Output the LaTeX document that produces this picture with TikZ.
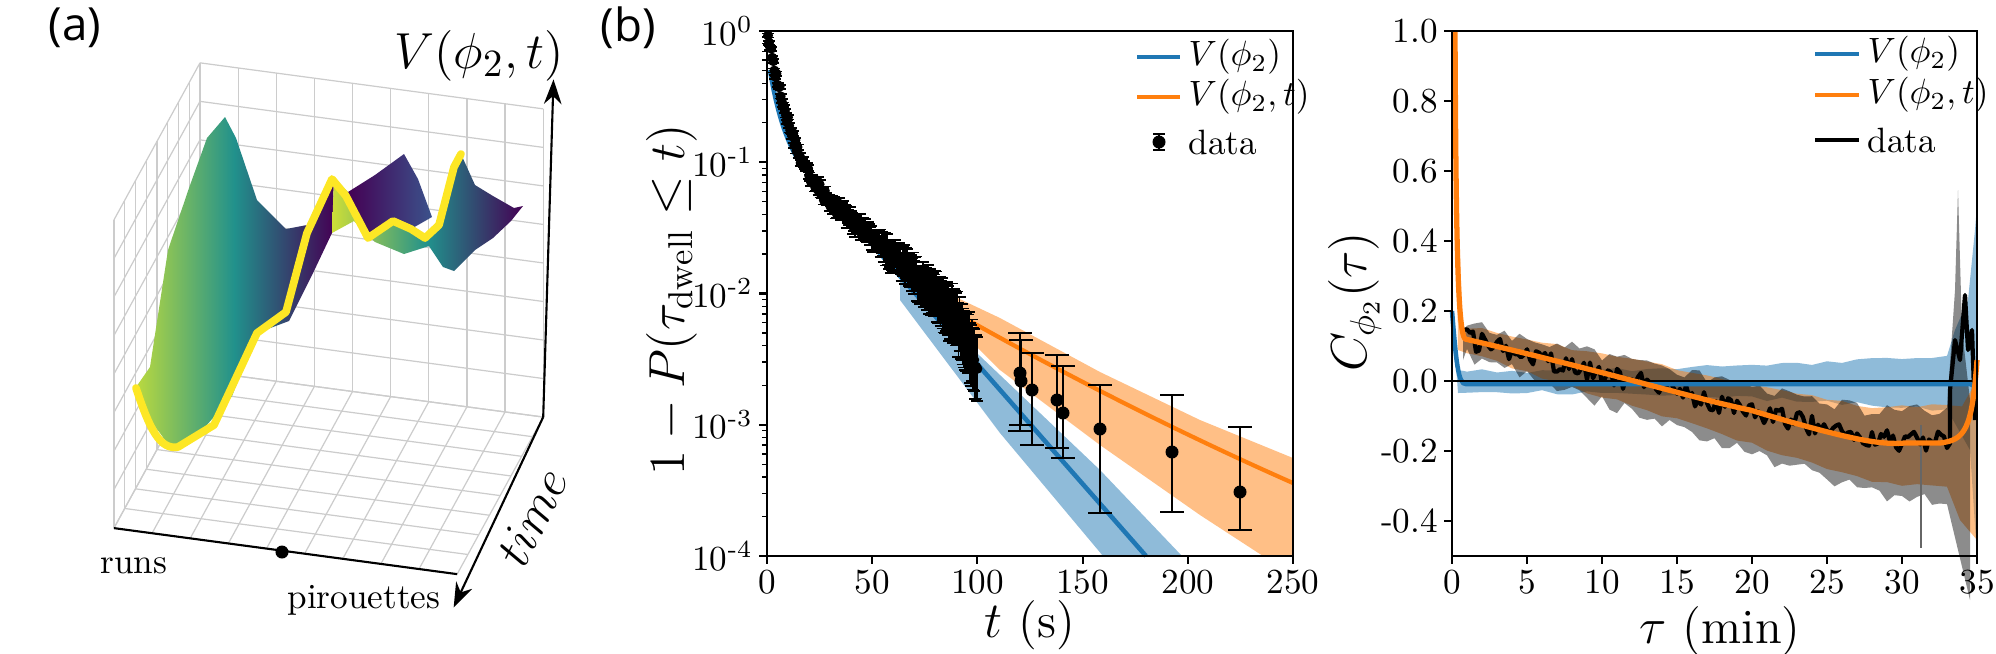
\documentclass[tikz,border=0pt]{standalone}
\usepackage{fontspec}
\usepackage{amsmath}
\setsansfont{Open Sans}
\usetikzlibrary{arrows.meta}
\definecolor{mplblue}{HTML}{1F77B4}
\definecolor{mplorange}{HTML}{FF7F0E}
\definecolor{vpurple}{HTML}{440154}
\definecolor{vblue}{HTML}{3B528B}
\definecolor{vteal}{HTML}{21918C}
\definecolor{vgreen}{HTML}{5EC962}
\definecolor{vyellow}{HTML}{FDE725}
\tikzset{
  gridline/.style={gray!40, line width=0.35pt},
  axisline/.style={black, line width=0.6pt},
  tick/.style={black, line width=0.6pt},
  ticklabel/.style={font=\fontsize{10}{12}\selectfont, inner sep=1pt},
  axislabel/.style={font=\fontsize{14}{16}\selectfont, inner sep=0pt},
  legendtext/.style={font=\fontsize{10}{12}\selectfont, anchor=west, inner sep=0pt},
  panellabel/.style={font=\sffamily\fontsize{13}{15}\selectfont, inner sep=0pt},
  errbar/.style={black, line width=0.6pt},
  dot/.style={fill=black}
}
\begin{document}
\begin{tikzpicture}[x=0.01cm, y=-0.01cm,
  declare function={cf(\t)=(\t<28) ? (0.1285-0.01066*\t) : (-0.17);
                    ly(\v)=31-131.25*ln(\v)/ln(10);}]
\useasboundingbox (0,0) rectangle (1996,653);
\pgfmathsetseed{7}

% (a) landscape
\node[panellabel] (labA) at (75,28) {(a)};
\begin{scope}[shift={(200,371)}, x={(3.43cm,-0.46cm)}, y={(-0.86cm,-1.57cm)}, z={(0cm,3.08cm)}]
  \foreach \i in {0,...,9} {
    \draw[gridline] (\i/9,0,0) -- (\i/9,0,1);
    \draw[gridline] (\i/9,0,0) -- (\i/9,1,0);
  }
  \foreach \k in {0,...,8} {
    \draw[gridline] (0,0,\k/8) -- (1,0,\k/8);
    \draw[gridline] (0,0,\k/8) -- (0,1,\k/8);
  }
  \foreach \j in {0,...,8} {
    \draw[gridline] (0,\j/8,0) -- (0,\j/8,1);
    \draw[gridline] (0,\j/8,0) -- (1,\j/8,0);
  }
  \coordinate (fl) at (0,1,0);
  \coordinate (fr) at (1,1,0);
  \coordinate (br) at (1,0,0);
  \coordinate (tr) at (1.03,0,1.1);
  \coordinate (tf) at (1.04,1.2,0);
\end{scope}
% surface
\shade[left color=vyellow!60!vgreen, right color=vpurple, middle color=vteal]
  (134,390) -- (150,367) -- (168,250) -- (189,188) -- (207,138) -- (225,117)
  -- (236,138) -- (257,200) -- (286,229) -- (307,225) -- (321,196) -- (334,177)
  -- (332,233) -- (314,271) -- (289,321)
  -- (257,333) -- (232,396) -- (200,433) -- (171,448) -- (154,425) -- (139,394) -- cycle;
\shade[left color=vpurple, right color=vblue]
  (348,192) -- (375,175) -- (404,154) -- (418,179) -- (432,217) -- (411,229) -- (393,221) -- (368,238) -- cycle;
\shade[left color=vyellow!70!vgreen, right color=vpurple, middle color=vteal]
  (334,177) -- (348,192) -- (368,238) -- (393,221) -- (411,229) -- (425,238)
  -- (439,225) -- (454,167) -- (461,154) -- (475,185) -- (493,196) -- (514,208)
  -- (523,206) -- (511,221) -- (493,238) -- (475,250) -- (454,271) -- (443,267)
  -- (429,246) -- (404,254) -- (375,242) -- (354,221) -- (332,233) -- cycle;
\draw[vyellow, line width=2.2pt, line join=round, line cap=round]
  (136,388) .. controls (150,430) and (160,450) .. (178,447)
  -- (214,425) -- (257,333) -- (286,312) -- (307,233) -- (332,179) -- (346,196)
  -- (368,238) -- (393,221) -- (411,229) -- (425,238) -- (439,225) -- (454,167) -- (461,154);
% axes of (a)
\draw[axisline] (fl) -- (fr);
\draw[axisline, -{Stealth[length=7pt,width=5pt]}] (br) -- (tf);
\draw[axisline, -{Stealth[length=7pt,width=5pt]}] (br) -- (tr);
\node[dot, circle, inner sep=0pt, minimum size=0.13cm] (mid) at (282,552) {};
\node[font=\fontsize{15}{17}\selectfont] (Vlab) at (479,56) {$V(\phi_2,t)$};
\node[font=\fontsize{15}{17}\selectfont, rotate=64] (timelab) at (532,517) {$time$};
\node[font=\fontsize{10}{12}\selectfont] (runs) at (134,566) {runs};
\node[font=\fontsize{10}{12}\selectfont] (pir) at (364,600) {pirouettes};

% (b) dwell times
\node[panellabel] (labB) at (628,28) {(b)};
\fill[mplblue, opacity=0.5] (900,280) -- (1000,375) -- (1100,470) -- (1182,556)
  -- (1103,556) -- (1000,433) -- (900,300) -- cycle;
\fill[mplorange, opacity=0.5] (930,285) -- (1000,318) -- (1100,372) -- (1200,420)
  -- (1293,458) -- (1293,556) -- (1263,556) -- (1200,515) -- (1100,445) -- (1000,370)
  -- (930,300) -- cycle;
\draw[mplblue, line width=1.3pt] (770,70) .. controls (780,130) and (795,165) .. (820,185) -- (1146,556);
\draw[mplorange, line width=1.2pt] (947,308) .. controls (1020,350) and (1150,420) .. (1293,483);
\foreach \t in {0.5,1,...,100} {
  \pgfmathsetmacro\xx{767+2.104*\t}
  \pgfmathsetmacro\yy{ly(0.876*exp(-\t/4.9)+0.124*exp(-\t/32))+40*exp((\t-100)/8)+6*rand}
  \pgfmathsetmacro\ee{2+0.003*\t*\t}
  \draw[errbar, line width=0.5pt] (\xx,\yy-\ee) -- (\xx,\yy+\ee)
    (\xx-6,\yy-\ee) -- (\xx+6,\yy-\ee) (\xx-6,\yy+\ee) -- (\xx+6,\yy+\ee);
  \fill (\xx,\yy) circle (5);
}
\foreach \xx/\yy/\ea/\eb in {1020/373/333/431, 1021/381/340/425, 1032/390/353/445,
  1057/400/355/448, 1063/413/366/458, 1100/429/385/513, 1172/452/395/512, 1240/492/427/530} {
  \draw[errbar] (\xx,\ea) -- (\xx,\eb) (\xx-12,\ea) -- (\xx+12,\ea) (\xx-12,\eb) -- (\xx+12,\eb);
  \fill (\xx,\yy) circle (6.5);
}
\draw[axisline] (767,31) rectangle (1293,556);
\foreach \d/\lab in {0/0,1/-1,2/-2,3/-3,4/-4} {
  \draw[tick] (767,31+131.25*\d) -- (759,31+131.25*\d);
  \node[ticklabel, anchor=east] at (757,31+131.25*\d) {10\textsuperscript{\lab}};
}
\foreach \d in {1,2,3,4} \foreach \m in {2,...,9} {
  \pgfmathsetmacro\yy{31+131.25*(\d-log10(\m))}
  \draw[tick, line width=0.4pt] (767,\yy) -- (762,\yy);
}
\foreach \t in {0,50,...,250} {
  \draw[tick] (767+2.104*\t,556) -- (767+2.104*\t,564);
  \node[ticklabel, anchor=north] at (767+2.104*\t,566) {\t};
}
\node[axislabel, rotate=90] (ylabB) at (672,300) {$1-P(\tau_{\mathrm{dwell}}\leq t)$};
\node[axislabel] (xlabB) at (1030,625) {$t$ (s)};
% legend (b)
\draw[mplblue, line width=1.3pt] (1137,57) -- (1180,57);
\draw[mplorange, line width=1.3pt] (1137,97) -- (1180,97);
\draw[errbar] (1159,134) -- (1159,150) (1153,134) -- (1165,134) (1153,150) -- (1165,150);
\fill (1159,142) circle (6.5);
\node[legendtext] (legB1) at (1188,57) {$V(\phi_2)$};
\node[legendtext] (legB2) at (1188,97) {$V(\phi_2,t)$};
\node[legendtext] (legB3) at (1188,142) {data};

% (c) correlation
\fill[mplblue, opacity=0.5] (1452,311) -- (1458,370) -- (1464,371)
  \foreach \t in {1,2,...,33} { -- ({1452+15*\t},{381-350*(0.028+0.0012*\t*\t/30+0.006*rand)}) }
  -- (1955,330) -- (1968,300) -- (1975,230) -- (1977,205) -- (1977,556) -- (1970,450)
  \foreach \t in {33,32,...,1} { -- ({1452+15*\t},{381+350*(0.03+0.0012*\t*\t/25+0.006*rand)}) }
  -- (1458,393) -- cycle;
\fill[mplorange, opacity=0.5] (1455,31) -- (1458,200) -- (1463,339)
  \foreach \t in {1,2,...,34} { -- ({1452+15*\t},{381-350*(cf(\t)+0.035+0.002*\t+0.006*rand)}) }
  -- (1977,380) -- (1977,540) -- (1960,520)
  \foreach \t in {33,32,...,1} { -- ({1452+15*\t},{381-350*(cf(\t)-0.035-0.003*\t+0.006*rand)}) }
  -- (1458,350) -- cycle;
\fill[black, opacity=0.45] (1463,330)
  \foreach \t in {1,1.5,...,33} { -- ({1452+15*\t},{381-350*(cf(\t)+0.04+0.0015*\t+0.02*rand)}) }
  -- (1955,290) -- (1958,190) -- (1962,330) -- (1970,400) -- (1970,600)
  \foreach \t in {33,32.5,...,1} { -- ({1452+15*\t},{381-350*(cf(\t)-0.04-0.004*\t+0.02*rand)}) }
  -- (1463,360) -- cycle;
\draw[black!60, line width=0.6pt] (1921,425) -- (1921,548);
\draw[black, line width=1.2pt, line join=round] (1463,330)
  \foreach \t in {1,1.2,...,33.2} { -- ({1452+15*\t},{381-350*(cf(\t)+0.03*rand)}) }
  -- (1950,390) -- (1955,340) -- (1960,360) -- (1965,295) -- (1968,350) -- (1972,330) -- (1975,420);
\draw[mplblue, line width=1.3pt] (1452,311) .. controls (1456,360) and (1458,385) .. (1466,384)
  -- (1970,384) -- (1975,386);
\draw[black, line width=0.8pt] (1452,381) -- (1977,381);
\draw[mplorange, line width=1.5pt, line join=round] (1455,31) .. controls (1456,250) and (1458,330) .. (1465,339)
  .. controls (1600,370) and (1700,400) .. (1750,410) .. controls (1850,440) and (1880,445) .. (1905,443)
  -- (1940,443) .. controls (1965,440) and (1972,430) .. (1977,360);
\draw[axisline] (1452,31) rectangle (1977,556);
\foreach \v/\lab in {1.0/1.0,0.8/0.8,0.6/0.6,0.4/0.4,0.2/0.2,0.0/0.0,-0.2/-0.2,-0.4/-0.4} {
  \draw[tick] (1452,381-350*\v) -- (1444,381-350*\v);
  \node[ticklabel, anchor=east] at (1442,381-350*\v) {\lab};
}
\foreach \t in {0,5,...,35} {
  \draw[tick] (1452+15*\t,556) -- (1452+15*\t,564);
  \node[ticklabel, anchor=north] at (1452+15*\t,566) {\t};
}
\node[axislabel, rotate=90] (ylabC) at (1355,302) {$C_{\phi_2}(\tau)$};
\node[axislabel] (xlabC) at (1720,631) {$\tau$ (min)};
% legend (c)
\draw[mplblue, line width=1.3pt] (1815,54) -- (1859,54);
\draw[mplorange, line width=1.3pt] (1815,95) -- (1859,95);
\draw[black, line width=1.3pt] (1815,140) -- (1859,140);
\node[legendtext] (legC1) at (1867,54) {$V(\phi_2)$};
\node[legendtext] (legC2) at (1867,95) {$V(\phi_2,t)$};
\node[legendtext] (legC3) at (1867,140) {data};
\end{tikzpicture}
\end{document}
